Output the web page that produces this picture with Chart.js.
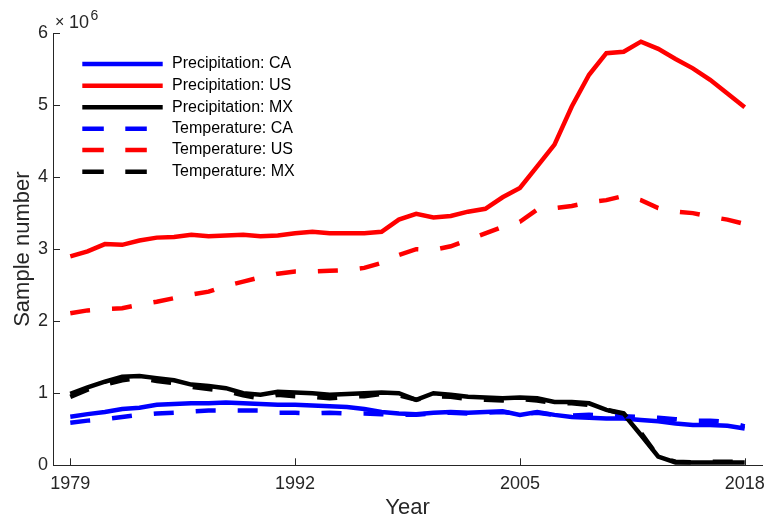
<!DOCTYPE html>
<html>
<head>
<meta charset="utf-8">
<script src="https://cdn.jsdelivr.net/npm/chart.js@4"></script>
<style>
  html, body { margin: 0; padding: 0; background: #fff; }
  #wrap { width: 766px; height: 523px; }
</style>
</head>
<body>
<div id="wrap"><canvas id="grafico"></canvas></div>
<script>
// años 1979-2018, valores en millones (x10^6)
const years = [1979,1980,1981,1982,1983,1984,1985,1986,1987,1988,1989,1990,1991,1992,1993,1994,1995,1996,1997,1998,
               1999,2000,2001,2002,2003,2004,2005,2006,2007,2008,2009,2010,2011,2012,2013,2014,2015,2016,2017,2018];

const precipCA = [0.675,0.71,0.74,0.78,0.80,0.84,0.85,0.86,0.86,0.87,0.86,0.85,0.84,0.84,0.83,0.82,0.81,0.78,0.74,0.72,
                  0.71,0.73,0.74,0.73,0.74,0.75,0.70,0.74,0.70,0.67,0.66,0.65,0.65,0.63,0.61,0.58,0.56,0.56,0.55,0.51];
const precipUS = [2.90,2.97,3.07,3.06,3.12,3.16,3.17,3.20,3.18,3.19,3.20,3.18,3.19,3.22,3.24,3.22,3.22,3.22,3.24,3.41,
                  3.49,3.44,3.46,3.52,3.56,3.72,3.85,4.15,4.45,4.98,5.42,5.72,5.74,5.88,5.78,5.64,5.51,5.35,5.16,4.97];
const precipMX = [0.99,1.08,1.16,1.23,1.24,1.21,1.18,1.12,1.10,1.07,1.00,0.98,1.02,1.01,1.00,0.98,0.99,1.00,1.01,1.00,
                  0.91,1.00,0.98,0.95,0.94,0.93,0.94,0.93,0.88,0.88,0.86,0.77,0.71,0.42,0.12,0.04,0.04,0.04,0.04,0.04];
const tempCA   = [0.59,0.62,0.64,0.67,0.70,0.72,0.73,0.745,0.76,0.76,0.76,0.76,0.73,0.73,0.72,0.73,0.72,0.72,0.71,0.70,
                  0.70,0.72,0.73,0.72,0.73,0.74,0.71,0.73,0.70,0.69,0.70,0.69,0.68,0.67,0.66,0.64,0.62,0.62,0.60,0.54];
const tempUS   = [2.11,2.15,2.17,2.18,2.23,2.27,2.32,2.37,2.41,2.49,2.55,2.61,2.66,2.69,2.69,2.70,2.71,2.74,2.81,2.92,
                  3.00,2.99,3.04,3.13,3.22,3.31,3.38,3.55,3.57,3.60,3.65,3.68,3.74,3.68,3.57,3.52,3.50,3.45,3.41,3.35];
const tempMX   = [0.95,1.05,1.12,1.18,1.21,1.17,1.14,1.09,1.06,1.03,0.97,0.93,0.98,0.96,0.95,0.93,0.95,0.96,0.99,0.97,
                  0.91,0.96,0.95,0.92,0.91,0.90,0.92,0.90,0.86,0.86,0.84,0.77,0.72,0.45,0.12,0.05,0.04,0.05,0.05,0.05];

const xTicks = [1979, 1992, 2005, 2018];
const yTicks = [0, 1, 2, 3, 4, 5, 6];

const FONT = "'Liberation Sans', Arial, Helvetica, sans-serif";
const INK = "#262626";
const DASH = [20, 22];

const series = [
  { label: "Precipitation: CA", data: precipCA, color: "#0000ff", dash: [] },
  { label: "Precipitation: US", data: precipUS, color: "#ff0000", dash: [] },
  { label: "Precipitation: MX", data: precipMX, color: "#000000", dash: [] },
  { label: "Temperature: CA",   data: tempCA,   color: "#0000ff", dash: DASH },
  { label: "Temperature: US",   data: tempUS,   color: "#ff0000", dash: DASH },
  { label: "Temperature: MX",   data: tempMX,   color: "#000000", dash: DASH }
];

// ticks hacia dentro, leyenda y el x10^6
const extras = {
  id: "extras",
  afterDraw(chart) {
    const ctx = chart.ctx;
    const xs = chart.scales.x, ys = chart.scales.y;
    ctx.save();
    ctx.strokeStyle = INK;
    ctx.lineWidth = 1;
    ctx.beginPath();
    xTicks.forEach(v => {
      const px = Math.round(xs.getPixelForValue(v)) + 0.5;
      ctx.moveTo(px, ys.bottom);
      ctx.lineTo(px, ys.bottom - 7);
    });
    yTicks.forEach(v => {
      const py = Math.round(ys.getPixelForValue(v)) + 0.5;
      ctx.moveTo(xs.left, py);
      ctx.lineTo(xs.left + 7, py);
    });
    ctx.stroke();

    // exponente
    ctx.fillStyle = INK;
    ctx.textBaseline = "alphabetic";
    ctx.textAlign = "left";
    ctx.font = "16px " + FONT;
    ctx.fillText("\u00d7", 55, 27);
    ctx.font = "18px " + FONT;
    ctx.fillText("10", 69, 28);
    ctx.font = "14px " + FONT;
    ctx.fillText("6", 90.5, 20);

    // leyenda
    const rowY = [64, 85.7, 107.3, 128.7, 150, 171.7];
    series.forEach((s, i) => {
      const y = rowY[i];
      ctx.strokeStyle = s.color;
      ctx.lineWidth = 4.5;
      ctx.setLineDash(s.dash.length ? [21.5, 21.5] : []);
      ctx.beginPath();
      ctx.moveTo(82.3, y);
      ctx.lineTo(162.7, y);
      ctx.stroke();
      ctx.setLineDash([]);
      ctx.fillStyle = "#000";
      ctx.font = "16px " + FONT;
      ctx.textBaseline = "middle";
      ctx.fillText(s.label, 172, y);
    });
    ctx.restore();
  }
};

const ctx = document.getElementById("grafico").getContext("2d");

new Chart(ctx, {
  type: "line",
  data: {
    datasets: series.map((s, i) => ({
      label: s.label,
      data: years.map((yr, k) => ({ x: yr, y: s.data[k] })),
      borderColor: s.color,
      backgroundColor: s.color,
      borderWidth: 4.5,
      borderDash: s.dash,
      pointRadius: 0,
      tension: 0,
      fill: false,
      order: series.length - i
    }))
  },
  options: {
    responsive: true,
    maintainAspectRatio: false,
    animation: false,
    layout: { padding: { top: 33, right: 4, left: 0, bottom: 0 } },
    plugins: {
      legend: { display: false },
      tooltip: { enabled: false }
    },
    scales: {
      x: {
        type: "linear",
        min: 1978,
        max: 2019,
        grid: { display: false, drawTicks: false },
        border: { display: true, color: INK, width: 1 },
        afterBuildTicks: scale => { scale.ticks = xTicks.map(v => ({ value: v })); },
        afterFit: scale => {
          scale.height = 57.7;
          scale.paddingLeft = 0;
          scale.paddingRight = 0;
        },
        ticks: {
          autoSkip: false,
          maxRotation: 0,
          padding: 8,
          color: INK,
          font: { family: FONT, size: 18 },
          callback: v => String(v)
        },
        title: {
          display: true,
          text: "Year",
          color: INK,
          font: { family: FONT, size: 22 },
          padding: { top: 0, bottom: 2 }
        }
      },
      y: {
        min: 0,
        max: 6,
        grid: { display: false, drawTicks: false },
        border: { display: true, color: INK, width: 1 },
        afterBuildTicks: scale => { scale.ticks = yTicks.map(v => ({ value: v })); },
        afterFit: scale => { scale.width = 53; },
        ticks: {
          padding: 5,
          color: INK,
          font: { family: FONT, size: 18 },
          callback: v => String(v)
        },
        title: {
          display: true,
          text: "Sample number",
          color: INK,
          font: { family: FONT, size: 22 },
          padding: { top: 10, bottom: 0 }
        }
      }
    }
  },
  plugins: [extras]
});
</script>
</body>
</html>
